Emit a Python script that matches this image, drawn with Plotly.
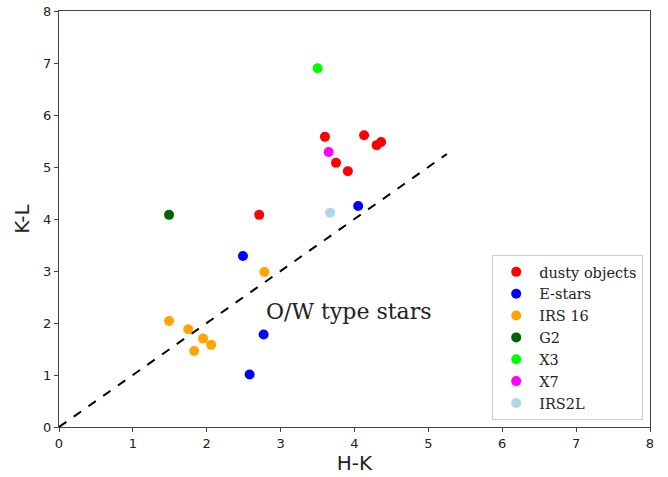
import plotly.graph_objects as go

# Data
dusty_hk = [3.60, 3.75, 3.91, 4.13, 4.30, 4.36, 2.71]
dusty_kl = [5.58, 5.08, 4.92, 5.61, 5.42, 5.48, 4.08]
estars_hk = [4.05, 2.49, 2.77, 2.58]
estars_kl = [4.25, 3.29, 1.78, 1.01]
irs16_hk = [2.78, 1.49, 1.75, 1.83, 1.95, 2.06]
irs16_kl = [2.98, 2.04, 1.88, 1.46, 1.70, 1.58]
g2_hk, g2_kl = [1.49], [4.08]
x3_hk, x3_kl = [3.50], [6.90]
x7_hk, x7_kl = [3.65], [5.29]
irs2l_hk, irs2l_kl = [3.67], [4.12]
line_x = [0, 5.25]
line_y = [0, 5.25]

series = [
    ("dusty objects", dusty_hk, dusty_kl, "red"),
    ("E-stars", estars_hk, estars_kl, "blue"),
    ("IRS 16", irs16_hk, irs16_kl, "orange"),
    ("G2", g2_hk, g2_kl, "darkgreen"),
    ("X3", x3_hk, x3_kl, "lime"),
    ("X7", x7_hk, x7_kl, "magenta"),
    ("IRS2L", irs2l_hk, irs2l_kl, "lightblue"),
]

fig = go.Figure()
fig.add_trace(go.Scatter(x=line_x, y=line_y, mode="lines",
                         line=dict(color="black", width=2, dash="dash"),
                         showlegend=False, hoverinfo="skip"))
for name, xs, ys, c in series:
    fig.add_trace(go.Scatter(x=xs, y=ys, mode="markers", name=name,
                             marker=dict(color=c, size=10)))

fig.add_annotation(x=2.78, y=2.23, text="O/W type stars", showarrow=False,
                   xanchor="left", yanchor="middle",
                   font=dict(family="DejaVu Serif", size=22, color="#222"))

axis_common = dict(range=[0, 8], dtick=1, showgrid=False, zeroline=False,
                   showline=True, linecolor="#444", linewidth=1.2, mirror=True,
                   ticks="outside", ticklen=4, tickcolor="#444", automargin=False,
                   tickfont=dict(family="DejaVu Sans", size=13, color="#222"))
fig.update_xaxes(**axis_common, title=dict(text="H-K", font=dict(family="DejaVu Sans", size=20, color="#222"), standoff=6))
fig.update_yaxes(**axis_common, title=dict(text="K-L", font=dict(family="DejaVu Sans", size=20, color="#222"), standoff=8))

fig.update_layout(
    width=668, height=477,
    margin=dict(l=59, r=18, t=11, b=50),
    plot_bgcolor="white", paper_bgcolor="white",
    legend=dict(x=0.733, y=0.017, xanchor="left", yanchor="bottom",
                bordercolor="#ccc", borderwidth=1, bgcolor="white",
                itemwidth=36, tracegroupgap=0,
                font=dict(family="DejaVu Serif", size=14.5, color="#222")),
)

fig.write_html("out.html")
